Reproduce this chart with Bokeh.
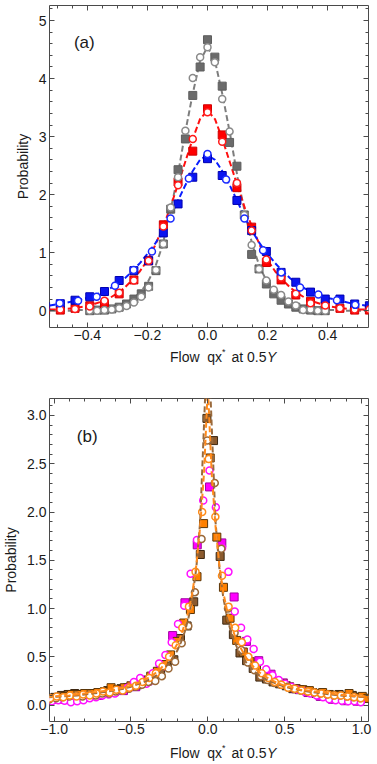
import numpy as np
from bokeh.plotting import figure
from bokeh.layouts import column
from bokeh.models import Range1d, FixedTicker, LinearAxis, Label
from bokeh.core.properties import value
from bokeh.embed import file_html
from bokeh.resources import INLINE

FONT = "Liberation Sans"

# ---------------- panel (a) ----------------
A_GRAY_X = [-0.392, -0.3675, -0.343, -0.3185, -0.294, -0.2695, -0.245, -0.2205, -0.196, -0.1715,
            -0.147, -0.1225, -0.098, -0.0735, -0.049, -0.0245, 0.0, 0.0245, 0.049, 0.0735,
            0.098, 0.1225, 0.147, 0.1715, 0.196, 0.2205, 0.245, 0.2695, 0.294, 0.3185,
            0.343, 0.3675, 0.392]
A_GRAY_SQ = [0.0, 0.01, 0.01, 0.03, 0.06, 0.115, 0.2, 0.29, 0.42, 0.69,
             1.15, 1.75, 2.43, 2.96, 3.71, 4.2, 4.67, 4.37, 3.87, 2.9,
             2.49, 1.65, 0.97, 0.72, 0.46, 0.29, 0.18, 0.115, 0.06, 0.03,
             0.01, 0.0, 0.0]
A_GRAY_CI = [0.0, 0.0, 0.01, 0.02, 0.04, 0.08, 0.14, 0.24, 0.4, 0.7,
             1.15, 1.78, 2.3, 3.1, 4.01, 4.37, 4.54, 4.28, 3.65, 3.09,
             2.2, 1.65, 1.13, 0.72, 0.52, 0.36, 0.27, 0.16, 0.09, 0.01,
             0.02, 0.0, 0.0]

A_RB_X = [-0.539, -0.49, -0.441, -0.392, -0.343, -0.294, -0.245, -0.196, -0.147, -0.098, -0.049,
          0.0, 0.049, 0.098, 0.147, 0.196, 0.245, 0.294, 0.343, 0.392, 0.441, 0.49, 0.539]
A_RED_SQ = [0.01, 0.01, 0.04, 0.085, 0.115, 0.29, 0.53, 0.86, 1.48, 2.22, 2.75,
            3.48, 3.03, 2.12, 1.44, 0.83, 0.53, 0.27, 0.16, 0.085, 0.04, 0.01, 0.01]
A_RED_CI = [0.02, 0.02, 0.03, 0.07, 0.17, 0.31, 0.52, 0.86, 1.45, 2.16, 2.96,
            3.42, 2.91, 2.2, 1.38, 0.88, 0.57, 0.29, 0.13, 0.09, 0.04, 0.02, 0.02]
A_BLUE_SQ = [0.07, 0.12, 0.18, 0.24, 0.33, 0.52, 0.69, 0.86, 1.34, 1.84, 2.3,
             2.62, 2.33, 1.9, 1.38, 1.02, 0.66, 0.49, 0.32, 0.2, 0.2, 0.115, 0.085]

A_BLUE_CI_X = [-0.492, -0.431, -0.369, -0.308, -0.246, -0.185, -0.123, -0.062, 0.0,
               0.062, 0.123, 0.185, 0.246, 0.308, 0.369, 0.431, 0.492]
A_BLUE_CI = [0.13, 0.17, 0.24, 0.43, 0.7, 1.02, 1.59, 2.28, 2.7,
             2.26, 1.59, 1.04, 0.66, 0.4, 0.28, 0.18, 0.1]

A_FIT_X = [-0.525, -0.5, -0.475, -0.45, -0.425, -0.4, -0.375, -0.35, -0.325, -0.3, -0.275,
           -0.25, -0.225, -0.2, -0.175, -0.15, -0.125, -0.1, -0.075, -0.05, -0.025, 0.0,
           0.025, 0.05, 0.075, 0.1, 0.125, 0.15, 0.175, 0.2, 0.225, 0.25, 0.275,
           0.3, 0.325, 0.35, 0.375, 0.4, 0.425, 0.45, 0.475, 0.5, 0.525]
A_FIT_GRAY = [0.0, 0.0, 0.0, 0.0, 0.01, 0.01, 0.02, 0.03, 0.05, 0.08, 0.13,
              0.2, 0.31, 0.48, 0.74, 1.12, 1.68, 2.3, 3.05, 3.72, 4.3, 4.55,
              4.3, 3.72, 3.05, 2.3, 1.68, 1.12, 0.74, 0.48, 0.31, 0.2, 0.13,
              0.08, 0.05, 0.03, 0.02, 0.01, 0.01, 0.0, 0.0, 0.0, 0.0]
A_FIT_RED = [0.02, 0.02, 0.03, 0.04, 0.06, 0.08, 0.12, 0.16, 0.22, 0.3, 0.4,
             0.53, 0.68, 0.87, 1.12, 1.42, 1.76, 2.15, 2.55, 2.95, 3.3, 3.45,
             3.3, 2.95, 2.55, 2.15, 1.76, 1.42, 1.12, 0.87, 0.68, 0.53, 0.4,
             0.3, 0.22, 0.16, 0.12, 0.08, 0.06, 0.04, 0.03, 0.02, 0.02]
A_FIT_BLUE = [0.09, 0.11, 0.13, 0.16, 0.19, 0.22, 0.27, 0.32, 0.38, 0.46, 0.56,
              0.68, 0.82, 0.98, 1.15, 1.36, 1.6, 1.88, 2.15, 2.4, 2.6, 2.68,
              2.6, 2.4, 2.15, 1.88, 1.6, 1.36, 1.15, 0.98, 0.82, 0.68, 0.56,
              0.46, 0.38, 0.32, 0.27, 0.22, 0.19, 0.16, 0.13, 0.11, 0.09]

# ---------------- panel (b) ----------------
B_BROWN_SQ_X = [-1.038, -0.995, -0.952, -0.909, -0.866, -0.823, -0.78, -0.737, -0.694, -0.651,
                -0.608, -0.565, -0.522, -0.479, -0.436, -0.393, -0.35, -0.307, -0.264, -0.221,
                -0.178, -0.135, -0.092, -0.049, -0.006, 0.037, 0.08, 0.123, 0.166, 0.209,
                0.252, 0.295, 0.338, 0.381, 0.424, 0.467, 0.51, 0.553, 0.596, 0.639,
                0.682, 0.725, 0.768, 0.811, 0.854, 0.897, 0.94, 0.983, 1.026]
B_BROWN_SQ = [0.07, 0.08, 0.1, 0.11, 0.12, 0.11, 0.12, 0.11, 0.13, 0.15,
              0.14, 0.17, 0.18, 0.2, 0.23, 0.26, 0.29, 0.35, 0.4, 0.47,
              0.69, 0.82, 1.07, 1.56, 2.97, 2.74, 1.54, 0.88, 0.73, 0.54,
              0.46, 0.38, 0.29, 0.27, 0.24, 0.22, 0.2, 0.17, 0.16, 0.15,
              0.13, 0.12, 0.11, 0.1, 0.11, 0.09, 0.1, 0.08, 0.07]

B_BROWN_CI_X = [-1.03, -0.987, -0.944, -0.901, -0.858, -0.815, -0.772, -0.729, -0.686, -0.643,
                -0.6, -0.557, -0.514, -0.471, -0.428, -0.385, -0.342, -0.299, -0.256, -0.213,
                -0.17, -0.127, -0.084, -0.041, -0.004, 0.045, 0.088, 0.131, 0.174, 0.217,
                0.26, 0.303, 0.346, 0.389, 0.432, 0.475, 0.518, 0.561, 0.604, 0.647,
                0.69, 0.733, 0.776, 0.819, 0.862, 0.905, 0.948, 0.991]
B_BROWN_CI = [0.06, 0.07, 0.08, 0.09, 0.1, 0.09, 0.11, 0.1, 0.12, 0.12,
              0.14, 0.15, 0.17, 0.19, 0.21, 0.24, 0.25, 0.3, 0.38, 0.45,
              0.64, 0.82, 1.17, 1.72, 2.74, 2.3, 1.62, 1.0, 0.75, 0.57,
              0.44, 0.36, 0.3, 0.26, 0.23, 0.21, 0.19, 0.17, 0.15, 0.14,
              0.13, 0.12, 0.11, 0.1, 0.1, 0.09, 0.08, 0.07]

B_ORANGE_SQ_X = [-1.0165, -0.9735, -0.9305, -0.8875, -0.8445, -0.8015, -0.7585, -0.7155, -0.6725, -0.6295,
                 -0.5865, -0.5435, -0.5005, -0.4575, -0.4145, -0.3715, -0.3285, -0.2855, -0.2425, -0.1995,
                 -0.1565, -0.1135, -0.0705, -0.0275, 0.0155, 0.0585, 0.1015, 0.1445, 0.1875, 0.2305,
                 0.2735, 0.3165, 0.3595, 0.4025, 0.4455, 0.4885, 0.5315, 0.5745, 0.6175, 0.6605,
                 0.7035, 0.7465, 0.7895, 0.8325, 0.8755, 0.9185, 0.9615, 1.0045, 1.0405]
B_ORANGE_SQ = [0.06, 0.08, 0.09, 0.11, 0.11, 0.12, 0.12, 0.13, 0.14, 0.18,
               0.16, 0.18, 0.2, 0.21, 0.25, 0.3, 0.35, 0.42, 0.52, 0.66,
               0.85, 0.99, 1.33, 1.88, 2.56, 1.74, 1.22, 0.9, 0.67, 0.55,
               0.45, 0.38, 0.31, 0.27, 0.24, 0.22, 0.19, 0.17, 0.16, 0.15,
               0.12, 0.13, 0.11, 0.1, 0.09, 0.12, 0.08, 0.09, 0.07]

B_ORANGE_CI_X = [-1.026, -0.983, -0.94, -0.897, -0.854, -0.811, -0.768, -0.725, -0.682, -0.639,
                 -0.596, -0.553, -0.51, -0.467, -0.424, -0.381, -0.338, -0.295, -0.252, -0.209,
                 -0.166, -0.123, -0.08, -0.037, 0.006, 0.049, 0.092, 0.135, 0.178, 0.221,
                 0.264, 0.307, 0.35, 0.393, 0.436, 0.479, 0.522, 0.565, 0.608, 0.651,
                 0.694, 0.737, 0.78, 0.823, 0.866, 0.909, 0.952, 0.995]
B_ORANGE_CI = [0.07, 0.09, 0.08, 0.1, 0.09, 0.11, 0.1, 0.12, 0.14, 0.13,
               0.16, 0.15, 0.18, 0.2, 0.24, 0.28, 0.33, 0.4, 0.5, 0.62,
               0.8, 1.02, 1.38, 2.0, 2.55, 1.95, 1.34, 1.02, 0.8, 0.65,
               0.5, 0.41, 0.33, 0.28, 0.24, 0.21, 0.18, 0.17, 0.15, 0.14,
               0.13, 0.12, 0.11, 0.1, 0.1, 0.09, 0.08, 0.07]

B_MAG_SQ_X = [-0.949, -0.869, -0.789, -0.709, -0.629, -0.549, -0.469, -0.389, -0.309, -0.229,
              -0.149, -0.069, 0.011, 0.091, 0.171, 0.251, 0.331, 0.411, 0.491, 0.571,
              0.651, 0.731, 0.811, 0.891, 0.971]
B_MAG_SQ = [0.06, 0.07, 0.08, 0.1, 0.13, 0.15, 0.19, 0.25, 0.4, 0.72,
            1.06, 1.66, 2.26, 1.68, 1.12, 0.66, 0.46, 0.32, 0.23, 0.17,
            0.13, 0.09, 0.06, 0.045, 0.04]

B_MAG_CI_X = [-1.014, -0.973, -0.932, -0.891, -0.85, -0.809, -0.768, -0.727, -0.686, -0.645,
              -0.604, -0.563, -0.522, -0.481, -0.44, -0.399, -0.358, -0.317, -0.276, -0.235,
              -0.194, -0.153, -0.112, -0.071, -0.03, 0.011, 0.052, 0.093, 0.134, 0.175,
              0.216, 0.257, 0.298, 0.339, 0.38, 0.421, 0.462, 0.503, 0.544, 0.585,
              0.626, 0.667, 0.708, 0.749, 0.79, 0.831, 0.872, 0.913, 0.954, 0.995]
B_MAG_CI = [0.04, 0.05, 0.045, 0.03, 0.04, 0.05, 0.07, 0.08, 0.1, 0.11,
            0.12, 0.15, 0.18, 0.24, 0.28, 0.22, 0.33, 0.43, 0.52, 0.65,
            0.84, 1.03, 1.36, 1.71, 2.12, 2.43, 2.05, 1.63, 1.38, 0.97,
            0.8, 0.68, 0.58, 0.45, 0.37, 0.31, 0.26, 0.22, 0.19, 0.16,
            0.14, 0.12, 0.1, 0.08, 0.06, 0.05, 0.045, 0.04, 0.04, 0.03]

B_FIT_X = [-1.05, -1.0, -0.95, -0.9, -0.85, -0.8, -0.75, -0.7, -0.65, -0.6, -0.55, -0.5, -0.45,
           -0.4, -0.35, -0.3, -0.25, -0.2, -0.175, -0.15, -0.125, -0.1, -0.075, -0.05, -0.025,
           -0.0125, 0.0, 0.0125, 0.025, 0.05, 0.075, 0.1, 0.125, 0.15, 0.175, 0.2, 0.25, 0.3,
           0.35, 0.4, 0.45, 0.5, 0.55, 0.6, 0.65, 0.7, 0.75, 0.8, 0.85, 0.9, 0.95, 1.0, 1.05]
B_FIT_BROWN = [0.08, 0.085, 0.09, 0.095, 0.1, 0.11, 0.12, 0.13, 0.14, 0.155, 0.17, 0.19, 0.22,
               0.25, 0.29, 0.35, 0.44, 0.56, 0.65, 0.76, 0.91, 1.12, 1.42, 1.9, 2.9,
               3.4, 4.3, 3.4, 2.9, 1.9, 1.42, 1.12, 0.91, 0.76, 0.65, 0.56, 0.44, 0.35,
               0.29, 0.25, 0.22, 0.19, 0.17, 0.155, 0.14, 0.13, 0.12, 0.11, 0.1, 0.095, 0.09, 0.085, 0.08]
B_FIT_ORANGE = [0.085, 0.09, 0.095, 0.1, 0.11, 0.12, 0.13, 0.14, 0.15, 0.16, 0.18, 0.2, 0.23,
                0.27, 0.32, 0.39, 0.49, 0.63, 0.72, 0.84, 0.98, 1.17, 1.45, 1.85, 2.4,
                2.85, 3.3, 2.85, 2.4, 1.85, 1.45, 1.17, 0.98, 0.84, 0.72, 0.63, 0.49, 0.39,
                0.32, 0.27, 0.23, 0.2, 0.18, 0.16, 0.15, 0.14, 0.13, 0.12, 0.11, 0.1, 0.095, 0.09, 0.085]

# x-axis title pieces: "Flow  qx" + superscript "*" + "at 0.5" + italic "Y"
XTITLE_MAIN = ["Flow\u00a0\u00a0qx", "at 0.5"]
XTITLE_SUP = "*"
XTITLE_VAR = "Y"

FRAME = "#4a4a4a"
TEXT = "#1a1a1a"
W = 377


def ticker(major, lo, hi, step):
    minor = [round(v, 4) for v in np.arange(lo, hi + step / 2, step)]
    return FixedTicker(ticks=major, minor_ticks=minor)


def style_axis(ax, show_labels):
    ax.axis_line_color = None
    ax.major_tick_in = 5
    ax.major_tick_out = 0
    ax.minor_tick_in = 3
    ax.minor_tick_out = 0
    ax.major_tick_line_color = FRAME
    ax.minor_tick_line_color = FRAME
    ax.major_tick_line_width = 1
    ax.minor_tick_line_width = 1
    if show_labels:
        ax.major_label_text_font = FONT
        ax.major_label_text_font_size = "14px"
        ax.major_label_text_color = TEXT
    else:
        # tick marks only on the opposite frame edges
        ax.major_label_overrides = {t: "" for t in ax.ticker.ticks}
        ax.major_label_text_font_size = "1px"
        ax.major_label_standoff = 0


def make_panel(height, top, bottom, xr, yr, xt, xlabels, yt, ylabels, xminor, yminor):
    p = figure(width=W, height=height, x_range=Range1d(*xr), y_range=Range1d(*yr),
               output_backend="svg", toolbar_location=None,
               min_border_left=45, min_border_right=9,
               min_border_top=top, min_border_bottom=bottom)
    p.background_fill_color = "white"
    p.border_fill_color = "white"
    p.outline_line_color = FRAME
    p.outline_line_width = 1
    p.xgrid.visible = False
    p.ygrid.visible = False

    xtick = ticker(xt, *xminor)
    ytick = ticker(yt, *yminor)

    p.xaxis.ticker = xtick
    p.yaxis.ticker = ytick
    p.xaxis.major_label_overrides = xlabels
    p.yaxis.major_label_overrides = ylabels
    style_axis(p.xaxis[0], True)
    style_axis(p.yaxis[0], True)
    p.xaxis.major_label_standoff = 2
    p.yaxis.major_label_standoff = 3

    p.yaxis.axis_label = "Probability"
    p.yaxis.axis_label_text_font = FONT
    p.yaxis.axis_label_text_font_size = "14px"
    p.yaxis.axis_label_text_font_style = "normal"
    p.yaxis.axis_label_text_color = TEXT
    p.yaxis.axis_label_standoff = 5

    top_ax = LinearAxis(ticker=xtick)
    style_axis(top_ax, False)
    p.add_layout(top_ax, "above")
    right_ax = LinearAxis(ticker=ytick)
    style_axis(right_ax, False)
    p.add_layout(right_ax, "right")
    return p


def make_xtitle(height, yc):
    """A thin strip holding the x-axis title, laid out in pixel units."""
    t = figure(width=W, height=height, x_range=Range1d(0, W), y_range=Range1d(0, height),
               output_backend="svg", toolbar_location=None, min_border=0,
               x_axis_type=None, y_axis_type=None)
    t.outline_line_color = None
    t.xgrid.visible = False
    t.ygrid.visible = False
    base = dict(text_font=value(FONT), text_color=TEXT, text_baseline="middle")
    t.text(x=[204], y=[yc], text=[XTITLE_MAIN[0]], text_align="right",
           text_font_size=value("14px"), **base)
    t.text(x=[204], y=[yc + 5], text=[XTITLE_SUP], text_align="left",
           text_font_size=value("9px"), **base)
    t.text(x=[215], y=[yc], text=[XTITLE_MAIN[1]], text_align="left",
           text_font_size=value("14px"), **base)
    t.text(x=[257], y=[yc], text=[XTITLE_VAR], text_align="left",
           text_font_size=value("14px"), text_font_style="italic", **base)
    return t


DASH = "6 3"

# ----- panel (a) -----
pa = make_panel(347, 5, 20, (-0.526, 0.536), (-0.29, 5.26),
                [-0.4, -0.2, 0.0, 0.2, 0.4],
                {-0.4: "\u22120.4", -0.2: "\u22120.2", 0: "0.0", 0.2: "0.2", 0.4: "0.4"},
                [0, 1, 2, 3, 4, 5],
                {0: "0", 1: "1", 2: "2", 3: "3", 4: "4", 5: "5"},
                (-0.5, 0.5, 0.05), (0.0, 5.2, 0.2))

pa.line(A_FIT_X, A_FIT_GRAY, line_color="#7d7d7d", line_width=2, line_dash=DASH)
pa.line(A_FIT_X, A_FIT_RED, line_color="#ff1010", line_width=2, line_dash=DASH)
pa.line(A_FIT_X, A_FIT_BLUE, line_color="#0a1eff", line_width=2, line_dash=DASH)

pa.scatter(A_GRAY_X, A_GRAY_SQ, marker="square", size=8, fill_color="#6b6b6b", line_color="#5e5e5e")
pa.scatter(A_RB_X, A_RED_SQ, marker="square", size=8, fill_color="#ff0000", line_color="#d00000")
pa.scatter(A_RB_X, A_BLUE_SQ, marker="square", size=8, fill_color="#0a14f0", line_color="#0000b0")

pa.scatter(A_GRAY_X, A_GRAY_CI, marker="circle", size=7, fill_color="white", line_color="#8a8a8a", line_width=1.5)
pa.scatter(A_RB_X, A_RED_CI, marker="circle", size=7, fill_color="white", line_color="#ff1a1a", line_width=1.5)
pa.scatter(A_BLUE_CI_X, A_BLUE_CI, marker="circle", size=7, fill_color="white", line_color="#1a2aff", line_width=1.5)

pa.add_layout(Label(x=-0.41, y=4.62, text="(a)", text_font=FONT, text_font_size="17px",
                    text_color=TEXT, text_align="center", text_baseline="middle"))

ta = make_xtitle(25, 15.3)

# ----- panel (b) -----
pb = make_panel(369, 26, 20, (-1.03, 1.045), (-0.17, 3.176),
                [-1.0, -0.5, 0.0, 0.5, 1.0],
                {-1: "\u22121.0", -0.5: "\u22120.5", 0: "0.0", 0.5: "0.5", 1: "1.0"},
                [0.0, 0.5, 1.0, 1.5, 2.0, 2.5, 3.0],
                {0: "0.0", 0.5: "0.5", 1: "1.0", 1.5: "1.5", 2: "2.0", 2.5: "2.5", 3: "3.0"},
                (-1.0, 1.0, 0.1), (0.0, 3.1, 0.1))

pb.scatter(B_BROWN_SQ_X, B_BROWN_SQ, marker="square", size=8, fill_color="#8b5a2e", line_color="#3d2812")
pb.scatter(B_MAG_SQ_X, B_MAG_SQ, marker="square", size=8, fill_color="#ff00ff", line_color="#a000a0")
pb.scatter(B_ORANGE_SQ_X, B_ORANGE_SQ, marker="square", size=8, fill_color="#ff8000", line_color="#5a3508")

pb.scatter(B_MAG_CI_X, B_MAG_CI, marker="circle", size=7, fill_color="white", line_color="#ff10ff", line_width=1.5)
pb.scatter(B_BROWN_CI_X, B_BROWN_CI, marker="circle", size=7, fill_color="white", line_color="#9a6838", line_width=1.5)
pb.scatter(B_ORANGE_CI_X, B_ORANGE_CI, marker="circle", size=7, fill_color="white", line_color="#ff8c1a", line_width=1.5)

pb.line(B_FIT_X, B_FIT_BROWN, line_color="#9a6a3c", line_width=2, line_dash=DASH)
pb.line(B_FIT_X, B_FIT_ORANGE, line_color="#ff8a1c", line_width=2, line_dash=DASH)

pb.add_layout(Label(x=-0.785, y=2.785, text="(b)", text_font=FONT, text_font_size="17px",
                    text_color=TEXT, text_align="center", text_baseline="middle"))

tb = make_xtitle(23, 11.3)

layout = column(pa, ta, pb, tb, spacing=0)
open("out.html", "w").write(file_html(layout, INLINE))
